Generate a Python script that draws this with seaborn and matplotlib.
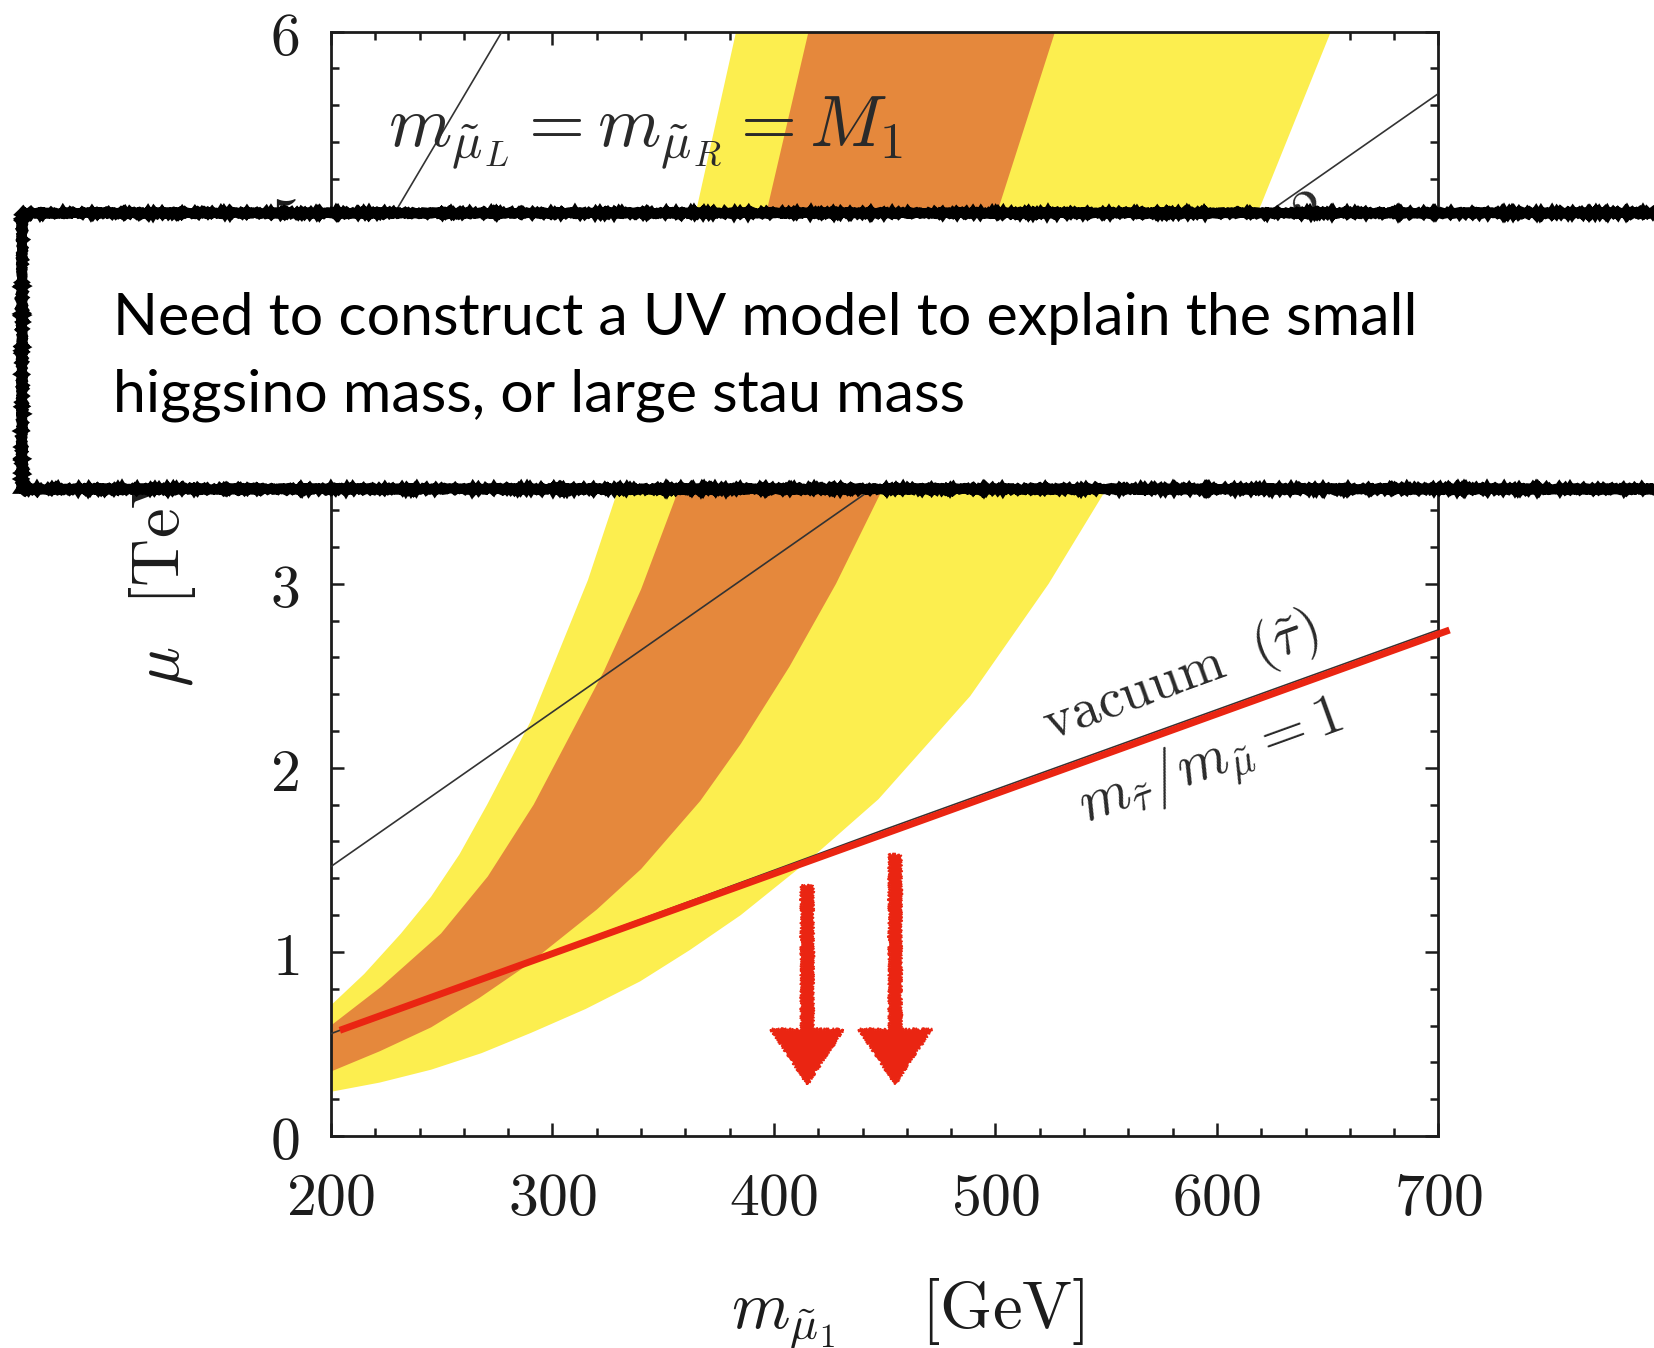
import numpy as np
import matplotlib
matplotlib.use("Agg")
import matplotlib.pyplot as plt
import seaborn as sns
from matplotlib.patches import Rectangle, FancyArrow
from matplotlib.ticker import MultipleLocator, FixedLocator

# ---- axis ticks -------------------------------------------------------------
x_ticks = [200, 300, 400, 500, 600, 700]
x_tick_labels = ["200", "300", "400", "500", "600", "700"]
y_ticks = [0, 1, 2, 3, 4, 5, 6]
y_tick_labels = ["0", "1", "2", "3", "4", "5", "6"]

# ---- g-2 preferred bands: (smuon mass [GeV], mu [TeV]) along each edge -------
yellow_upper_m = [200, 215, 231.6, 245.2, 258, 270.5, 290, 316, 328.7, 347, 365.5, 382.9]
yellow_upper_mu = [0.71, 0.88, 1.10, 1.30, 1.53, 1.80, 2.25, 3.02, 3.48, 4.25, 5.06, 6.0]
yellow_lower_m = [200, 222, 245.2, 268, 290.3, 315, 339.6, 362, 385, 416, 447.2, 488.6,
                  524, 549.8, 586, 619.9, 651.4]
yellow_lower_mu = [0.24, 0.29, 0.36, 0.45, 0.56, 0.69, 0.84, 1.01, 1.20, 1.50, 1.83, 2.39,
                   3.0, 3.51, 4.25, 5.06, 6.0]
orange_upper_m = [200, 222.6, 249.7, 270.8, 291.5, 323.4, 340, 355, 377, 397.4, 415.6]
orange_upper_mu = [0.60, 0.81, 1.10, 1.41, 1.80, 2.53, 2.97, 3.45, 4.22, 5.06, 6.0]
orange_lower_m = [200, 222, 245.2, 267, 288.8, 320, 340, 366.7, 385, 407, 428, 448, 475,
                  501.9, 526.9]
orange_lower_mu = [0.35, 0.46, 0.59, 0.75, 0.93, 1.23, 1.45, 1.82, 2.13, 2.55, 3.00, 3.49,
                   4.25, 5.06, 6.0]

# ---- vacuum stability lines ---------------------------------------------------
vac1_m = [200, 450, 700]     # m_stau / m_smuon = 1
vac1_mu = [0.556, 1.665, 2.75]
vac1_red_m = [204, 705]      # highlighted copy of the same bound
vac1_red_mu = [0.574, 2.749]
vac2_m = [200, 700]          # m_stau / m_smuon = 2
vac2_mu = [1.464, 5.664]
vac3_m = [200, 277.2]        # steepest bound
vac3_mu = [4.43, 6.0]

# ---- downward arrows ----------------------------------------------------------
arrow_m = [415.0, 454.7]
arrow_top_mu = [1.36, 1.53]
arrow_tip_mu = 0.28

YELLOW = "#FCEE4F"
ORANGE = "#E5883C"
RED = "#EA2512"
INK = "#1c1c1c"

sns.set_style("ticks")
plt.rcParams["mathtext.fontset"] = "cm"
plt.rcParams["font.family"] = ["DejaVu Sans"]

fig = plt.figure(figsize=(16.54, 13.48), dpi=100)
ax = fig.add_axes([0.2001, 0.1573, 0.6696, 0.8192])
ax.set_xlim(200, 700)
ax.set_ylim(0, 6)

# bands drawn as closed regions: lower edge left->right, upper edge back
ax.fill(yellow_lower_m + yellow_upper_m[::-1],
        yellow_lower_mu + yellow_upper_mu[::-1],
        color=YELLOW, lw=0, zorder=1)
ax.fill(orange_lower_m + orange_upper_m[::-1],
        orange_lower_mu + orange_upper_mu[::-1],
        color=ORANGE, lw=0, zorder=2)

for xs, ys in [(vac1_m, vac1_mu), (vac2_m, vac2_mu), (vac3_m, vac3_mu)]:
    sns.lineplot(x=xs, y=ys, ax=ax, color="#333333", lw=1.2, zorder=3)
sns.lineplot(x=vac1_red_m, y=vac1_red_mu, ax=ax, color=RED, lw=5.0, zorder=4)
for l in ax.lines[-1:]:
    l.set_clip_on(False)
    l.set_solid_capstyle("butt")

# hand-drawn style arrows
for xm, top in zip(arrow_m, arrow_top_mu):
    arr = FancyArrow(xm, top, 0, arrow_tip_mu - top, width=5.5, head_width=33,
                     head_length=0.30, length_includes_head=True,
                     color=RED, lw=1.0, zorder=6)
    arr.set_sketch_params(scale=1.4, length=2.0, randomness=2.0)
    ax.add_patch(arr)

# ticks and frame
ax.xaxis.set_major_locator(FixedLocator(x_ticks))
ax.yaxis.set_major_locator(FixedLocator(y_ticks))
ax.set_xticklabels([f"${t}$" for t in x_tick_labels])
ax.set_yticklabels([f"${t}$" for t in y_tick_labels])
ax.xaxis.set_minor_locator(MultipleLocator(20))
ax.yaxis.set_minor_locator(MultipleLocator(0.2))
ax.tick_params(which="both", direction="in", top=True, right=True,
               color=INK, width=1.8)
ax.tick_params(which="major", length=9.5)
ax.tick_params(which="minor", length=5.5)
ax.tick_params(axis="x", which="major", pad=24, labelsize=43, labelcolor=INK)
ax.tick_params(axis="y", which="major", pad=23, labelsize=43, labelcolor=INK)
for sp in ax.spines.values():
    sp.set_visible(True)
    sp.set_linewidth(2.0)
    sp.set_color(INK)
ax.set_xlabel("")
ax.set_ylabel("")


def screen_angle(xs, ys):
    p = ax.transData.transform(np.column_stack([xs[:2], ys[:2]]))
    return np.degrees(np.arctan2(p[1, 1] - p[0, 1], p[1, 0] - p[0, 0]))


ang1 = screen_angle(vac1_red_m, vac1_red_mu)
ang2 = screen_angle(vac2_m, vac2_mu)

ax.text(225.7, 5.377, r"$m_{\tilde\mu_L} = m_{\tilde\mu_R} = M_1$",
        fontsize=52, color="#2a2a2a", ha="left", va="baseline", zorder=7)
ax.text(583.9, 2.49, r"$\mathrm{vacuum}\ \ (\tilde\tau)$", fontsize=40,
        color="#2a2a2a", rotation=ang1, rotation_mode="anchor",
        ha="center", va="center", zorder=7)
ax.text(597.0, 2.03, r"$m_{\tilde\tau}/m_{\tilde\mu} = 1$", fontsize=42,
        color="#2a2a2a", rotation=ang1, rotation_mode="anchor",
        ha="center", va="center", zorder=7)
ax.text(597.0, 4.62, r"$m_{\tilde\tau}/m_{\tilde\mu} = 2$", fontsize=42,
        color="#2a2a2a", rotation=ang2, rotation_mode="anchor",
        ha="center", va="center", zorder=7)

# axis titles
fig.text(0.549, 0.0150, r"$m_{\tilde\mu_1}\quad\ [\mathrm{GeV}]$", fontsize=48,
         color=INK, ha="center", va="baseline")
fig.text(0.0985, 0.580, r"$\mu\;\;\,[\mathrm{TeV}]$", fontsize=48,
         color=INK, rotation=90, ha="center", va="center")

# comment box laid over the plot
box = Rectangle((0.013, 0.6372), 1.2, 0.2048, transform=fig.transFigure,
                facecolor="white", edgecolor="black", lw=7, zorder=10)
box.set_sketch_params(scale=0.9, length=1.5, randomness=2.0)
fig.add_artist(box)
fig.text(0.0683, 0.7515, "Need to construct a UV model to explain the small",
         fontsize=42.5, family=["Lato", "DejaVu Sans"], color="black",
         ha="left", va="baseline", zorder=11)
fig.text(0.0683, 0.6944, "higgsino mass, or large stau mass",
         fontsize=42.5, family=["Lato", "DejaVu Sans"], color="black",
         ha="left", va="baseline", zorder=11)

fig.savefig("out.png", dpi=100, facecolor="white")
